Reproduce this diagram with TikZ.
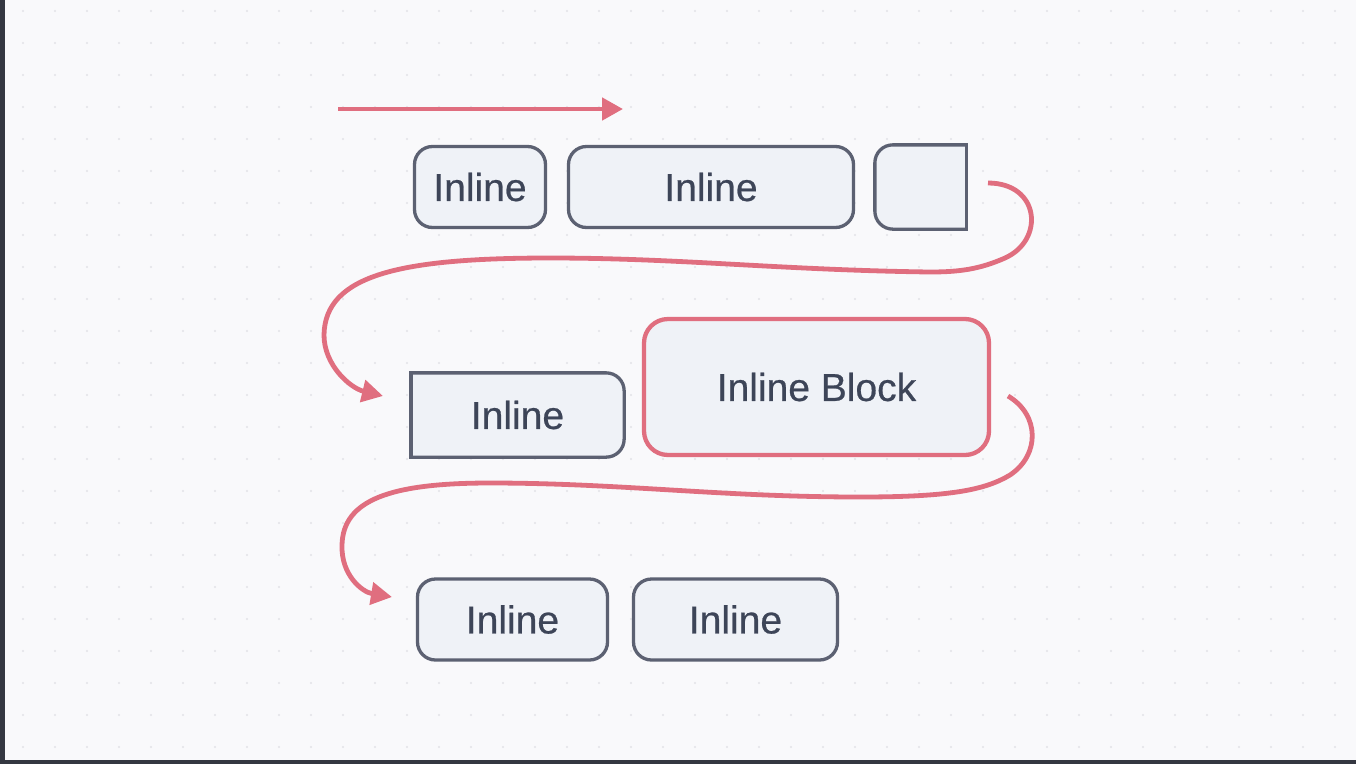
\documentclass[tikz,border=0pt]{standalone}
\usepackage{fontspec}
\setmainfont{Liberation Sans}
\newfontfamily\medfont{Liberation Sans}[FakeBold=0.6]
\usetikzlibrary{arrows.meta}
\definecolor{bgc}{HTML}{F9F9FB}
\definecolor{dotc}{HTML}{E2E2E7}
\definecolor{framec}{HTML}{343741}
\definecolor{boxfill}{HTML}{EFF2F7}
\definecolor{boxline}{HTML}{5C6172}
\definecolor{txtc}{HTML}{3D4558}
\definecolor{redc}{HTML}{E06E7F}
\begin{document}
\begin{tikzpicture}[x=1pt,y=-1pt,
  box/.style={draw=boxline, fill=boxfill, line width=3.3pt, rounded corners=18pt,
    inner sep=0pt, text=txtc, font=\medfont\fontsize{39}{44}\selectfont, minimum height=81pt},
  plainbox/.style={box, draw=none, fill=none},
  outline/.style={draw=boxline, line width=3.3pt},
  flow/.style={draw=redc, line width=4.8pt, -{Triangle[length=21pt,width=22pt]}},
]
\useasboundingbox (0,0) rectangle (1356,764);
\fill[bgc] (0,0) rectangle (1356,764);
\foreach \i in {0,...,41}{\foreach \j in {0,...,23}{\fill[dotc] (23+32*\i,11+32*\j) circle (1.2pt);}}
\fill[framec] (0,0) rectangle (5,764);
\fill[framec] (0,759.5) rectangle (1356,764);

% row 1
\node[box, minimum width=131pt] (a) at (480,187) {Inline};
\node[box, minimum width=285pt] (b) at (711,187) {Inline};
\node[plainbox, minimum width=88pt] (c) at (920.5,187) {};
\fill[boxfill, rounded corners=18pt] (c.north east) -- (c.north west) -- (c.south west) -- (c.south east);
\draw[outline, rounded corners=18pt] (c.north east) -- (c.north west) -- (c.south west) -- (c.south east);
\draw[outline, line cap=rect] (c.south east) -- (c.north east);

% row 2
\node[plainbox, minimum width=210pt] (d) at (517.5,415) {};
\fill[boxfill, rounded corners=18pt] (d.north west) -- (d.north east) -- (d.south east) -- (d.south west);
\draw[outline, rounded corners=18pt] (d.north west) -- (d.north east) -- (d.south east) -- (d.south west);
\draw[outline, line cap=rect] (d.south west) -- (d.north west);
\node[text=txtc, font=\medfont\fontsize{39}{44}\selectfont, inner sep=0pt] (dt) at (d.center) {Inline};
\node[box, draw=redc, line width=4.3pt, rounded corners=24pt, minimum width=345pt, minimum height=136pt] (e) at (816.5,387) {Inline Block};

% row 3
\node[box, minimum width=190pt] (f) at (512.5,619.5) {Inline};
\node[box, minimum width=204pt] (g) at (735.5,619.5) {Inline};

% connectors
\coordinate (h0) at (338,109);
\coordinate (h1) at (623,109);
\draw[flow] (h0) -- (h1);

\coordinate (s1) at (988,183);
\coordinate (t1) at (383,396);
\draw[flow] (s1) .. controls (1040,183) and (1045,240) .. (1005,258)
  .. controls (980,269) and (960,272) .. (930,272)
  .. controls (780,270) and (680,258) .. (550,258)
  .. controls (400,258) and (325,275) .. (324,335)
  .. controls (324,365) and (350,388) .. (t1);

\coordinate (s2) at (1008,396);
\coordinate (t2) at (392,597);
\draw[flow] (s2) .. controls (1040,415) and (1040,455) .. (1010,475)
  .. controls (985,490) and (950,497) .. (860,497)
  .. controls (720,497) and (620,483) .. (490,483)
  .. controls (390,483) and (343,500) .. (342,545)
  .. controls (341,575) and (362,592) .. (t2);
\end{tikzpicture}
\end{document}
